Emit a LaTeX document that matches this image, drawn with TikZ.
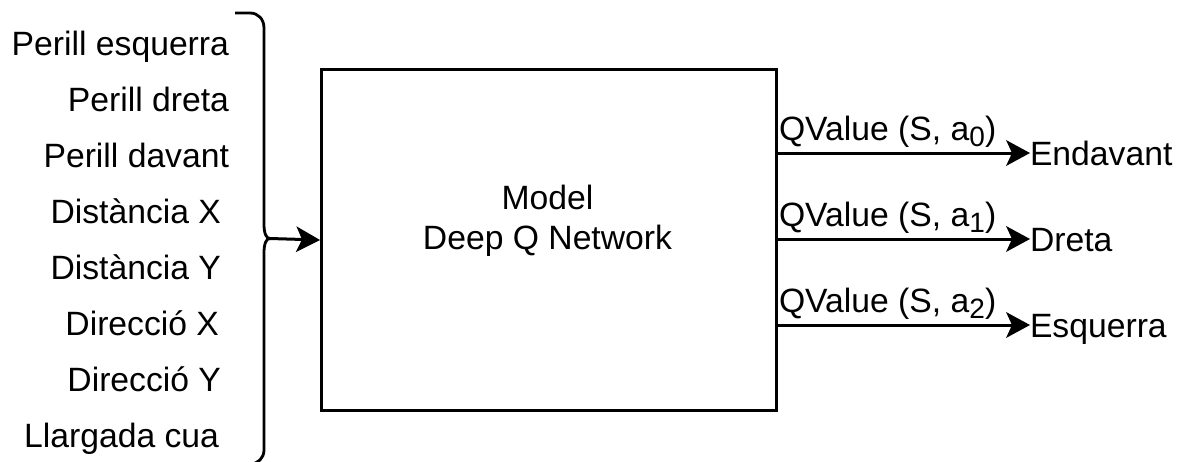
\documentclass[tikz,border=0pt]{standalone}
\usepackage{fontspec}
\setmainfont{Liberation Sans}
\usetikzlibrary{arrows.meta}
\begin{document}
\begin{tikzpicture}[x=1pt,y=-1pt,
  lbl/.style={font=\fontsize{33.7}{40}\selectfont, inner sep=0pt, outer sep=0pt},
  outlbl/.style={lbl, anchor=west, text height=24pt, text depth=0pt},
  arr/.style={line width=3pt, arrows={-Stealth[length=24pt,width=26pt,inset=6pt,line width=0pt]}},
  boxst/.style={draw, line width=3pt, minimum width=455pt, minimum height=341pt, inner sep=0pt, anchor=north west}
]
\useasboundingbox (0,0) rectangle (1181,461);
\clip (0,0) rectangle (1181,461);

% input labels
\node[lbl, anchor=base east] (in1) at (229,55)  {Perill esquerra};
\node[lbl, anchor=base east] (in2) at (229,111) {Perill dreta};
\node[lbl, anchor=base east] (in3) at (229,167) {Perill davant};
\node[lbl, anchor=base east] (in4) at (221,223) {Distància X};
\node[lbl, anchor=base east] (in5) at (221,279) {Distància Y};
\node[lbl, anchor=base east] (in6) at (219,335) {Direcció X};
\node[lbl, anchor=base east] (in7) at (221,391) {Direcció Y};
\node[lbl, anchor=base east] (in8) at (219,447) {Llargada cua};

% brace
\coordinate (brtip) at (270,238.5);
\draw[line width=2.8pt]
  (235,13) -- (250,13) .. controls (258,13) and (264,19) .. (264,28)
  -- (264,224) .. controls (264,233) and (266,238.5) .. (brtip)
  .. controls (266,238.5) and (264,244) .. (264,253)
  -- (264,450) .. controls (264,458) and (258,464) .. (250,464) -- (235,464);

% model box
\node[boxst] (box) at (320,68) {};
\node[lbl, anchor=base] (m1) at (547.5,209) {Model};
\node[lbl, anchor=base] (m2) at (547.5,249) {Deep Q Network};

\draw[arr] (brtip) -- (box.west);

% outputs
\node[outlbl] (o1) at (1030,153) {Endavant};
\node[outlbl] (o2) at (1030,239) {Dreta};
\node[outlbl] (o3) at (1030,325) {Esquerra};

\node[lbl, anchor=base west] (q0) at (779,140) {QValue (S, a\raisebox{-6pt}{\fontsize{28}{30}\selectfont 0})};
\node[lbl, anchor=base west] (q1) at (779,226) {QValue (S, a\raisebox{-6pt}{\fontsize{28}{30}\selectfont 1})};
\node[lbl, anchor=base west] (q2) at (779,312) {QValue (S, a\raisebox{-6pt}{\fontsize{28}{30}\selectfont 2})};

\draw[arr] (box.east |- o1.west) -- (o1.west);
\draw[arr] (box.east |- o2.west) -- (o2.west);
\draw[arr] (box.east |- o3.west) -- (o3.west);
\end{tikzpicture}
\end{document}
